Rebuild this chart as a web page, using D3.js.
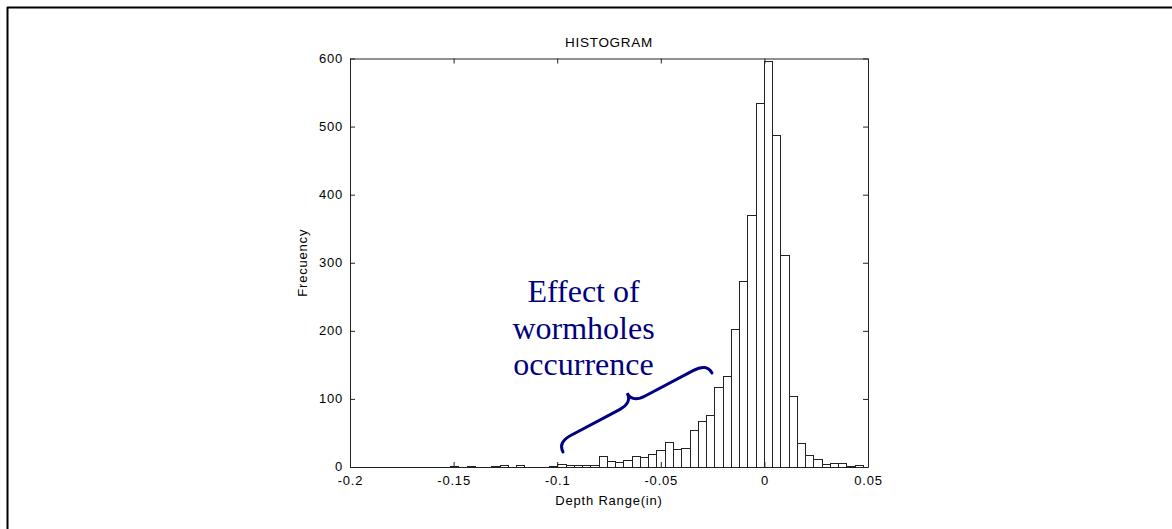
<!DOCTYPE html>
<html>
<head>
<meta charset="utf-8">
<script src="https://cdn.jsdelivr.net/npm/d3@7"></script>
<style>
  html, body { margin: 0; padding: 0; background: #fff; }
  svg { display: block; }
  .tick text, .lbl { font-family: "Liberation Sans", Arial, sans-serif; }
</style>
</head>
<body>
<svg id="chart" width="1172" height="529"></svg>
<script>
// ---- data ----
const binStart = -0.15174;      // left edge of first bin
const binWidth = 0.0039865;     // bin width (50 bins)
const counts = [1, 0, 1, 0, 0, 1, 3, 0, 3, 0,
                0, 0, 1, 5, 3, 3, 3, 3, 16, 9,
                7, 11, 16, 14, 19, 25, 37, 26, 28, 54,
                68, 77, 117, 133, 202, 273, 370, 535, 596, 487,
                312, 105, 35, 17, 12, 4, 6, 6, 1, 3];
const xTicks = [-0.2, -0.15, -0.1, -0.05, 0, 0.05];
const xTickLabels = ["-0.2", "-0.15", "-0.1", "-0.05", "0", "0.05"];
const yTicks = [0, 100, 200, 300, 400, 500, 600];
const titleText = "HISTOGRAM";
const xLabel = "Depth Range(in)";
const yLabel = "Frecuency";
const noteLines = ["Effect of", "wormholes", "occurrence"];
const noteAnchor = {x: -0.0873, y: [242, 187.6, 135]};
const braceFrom = {x: -0.0972, y: 22};
const braceTo = {x: -0.0253, y: 138};

// ---- layout ----
(function draw() {
const svg = d3.select("#chart");
const pL = 350, pR = 868, pT = 58.5, pB = 467;
const x = d3.scaleLinear().domain([-0.2, 0.05]).range([pL, pR]);
const y = d3.scaleLinear().domain([0, 600]).range([pB, pT]);

// outer frame (top + left lines)
svg.append("line").attr("x1", 7).attr("x2", 1172).attr("y1", 7.5).attr("y2", 7.5)
  .attr("stroke", "#000").attr("stroke-width", 2);
svg.append("line").attr("x1", 7.5).attr("x2", 7.5).attr("y1", 7).attr("y2", 529)
  .attr("stroke", "#000").attr("stroke-width", 2);

// bars
const bins = counts.map((c, i) => ({x0: binStart + i * binWidth, x1: binStart + (i + 1) * binWidth, c}));
svg.append("g").selectAll("rect").data(bins).join("rect")
  .attr("x", d => Math.round(x(d.x0)) + 0.5)
  .attr("width", d => Math.round(x(d.x1)) - Math.round(x(d.x0)))
  .attr("y", d => Math.round(y(d.c)) + 0.5)
  .attr("height", d => Math.max(0, Math.round(y(0)) - Math.round(y(d.c))))
  .attr("fill", "#fff").attr("stroke", "#222").attr("stroke-width", 1);

// axes (MATLAB box style, inward ticks)
const tickFont = g => g.selectAll("text")
  .attr("font-size", 13).attr("letter-spacing", 0.8).attr("fill", "#000");
const xAxis = svg.append("g").attr("transform", `translate(0,${pB})`)
  .call(d3.axisBottom(x).tickValues(xTicks).tickFormat((d, i) => xTickLabels[i]).tickSizeInner(-5).tickSizeOuter(0).tickPadding(11));
const yAxis = svg.append("g").attr("transform", `translate(${pL},0)`)
  .call(d3.axisLeft(y).tickValues(yTicks).tickFormat(d3.format("d")).tickSizeInner(-5).tickSizeOuter(0).tickPadding(7));
const xTop = svg.append("g").attr("transform", `translate(0,${pT})`)
  .call(d3.axisTop(x).tickValues(xTicks).tickFormat("").tickSizeInner(-5).tickSizeOuter(0));
const yRight = svg.append("g").attr("transform", `translate(${pR},0)`)
  .call(d3.axisRight(y).tickValues(yTicks).tickFormat("").tickSizeInner(-5).tickSizeOuter(0));
[xAxis, yAxis, xTop, yRight].forEach(g => {
  g.select(".domain").attr("stroke", "#222");
  g.selectAll(".tick line").attr("stroke", "#222");
  tickFont(g);
});
xAxis.selectAll("text").attr("dy", "0.55em");
yAxis.selectAll("text").attr("dy", "0.3em");

// titles
svg.append("text").attr("class", "lbl").attr("x", (pL + pR) / 2).attr("y", 47)
  .attr("text-anchor", "middle").attr("font-size", 13.5).attr("letter-spacing", 0.7).text(titleText);
svg.append("text").attr("class", "lbl").attr("x", (pL + pR) / 2).attr("y", 505)
  .attr("text-anchor", "middle").attr("font-size", 13).attr("letter-spacing", 0.8).text(xLabel);
svg.append("text").attr("class", "lbl")
  .attr("transform", `translate(307,${(pT + pB) / 2}) rotate(-90)`)
  .attr("text-anchor", "middle").attr("font-size", 13).attr("letter-spacing", 0.8).text(yLabel);

// annotation text
svg.append("g").selectAll("text").data(noteLines).join("text")
  .attr("x", x(noteAnchor.x)).attr("y", (d, i) => y(noteAnchor.y[i]))
  .attr("text-anchor", "middle")
  .attr("font-family", "'Liberation Serif', 'Times New Roman', serif")
  .attr("font-size", 32).attr("fill", "#000080").text(d => d);

// curly brace
const ax = x(braceFrom.x), ay = y(braceFrom.y), bx = x(braceTo.x), by = y(braceTo.y);
const L = Math.hypot(bx - ax, by - ay);
const ux = (bx - ax) / L, uy = (by - ay) / L;
const nx = uy, ny = -ux; // normal pointing up-left
const h = 22, r = 15;
const P = (s, t) => [ax + ux * s + nx * t, ay + uy * s + ny * t];
const p = d3.path();
p.moveTo(...P(0, 0));
p.quadraticCurveTo(...P(0, h / 2), ...P(r, h / 2));
p.lineTo(...P(L / 2 - r, h / 2));
p.quadraticCurveTo(...P(L / 2, h / 2), ...P(L / 2, h));
p.quadraticCurveTo(...P(L / 2, h / 2), ...P(L / 2 + r, h / 2));
p.lineTo(...P(L - r, h / 2));
p.quadraticCurveTo(...P(L, h / 2), ...P(L, 0));
svg.append("path").attr("d", p.toString()).attr("fill", "none")
  .attr("stroke", "#000080").attr("stroke-width", 3).attr("stroke-linecap", "round");
})();
</script>
</body>
</html>
